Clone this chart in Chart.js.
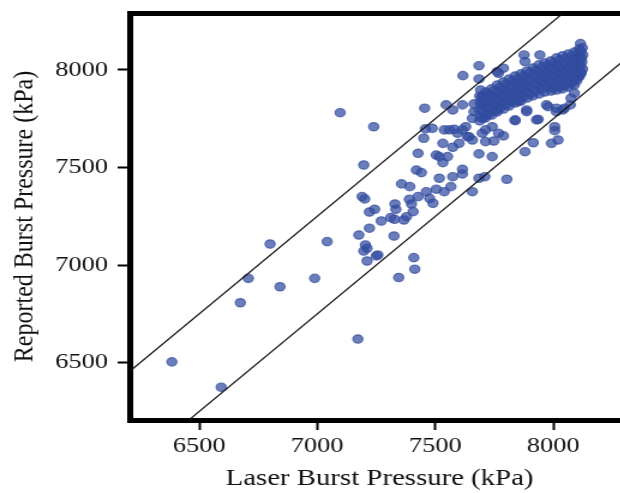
<!DOCTYPE html>
<html>
<head>
<meta charset="utf-8">
<script src="https://cdn.jsdelivr.net/npm/chart.js@4"></script>
<style>
  html, body { margin: 0; padding: 0; background: #fff; overflow: hidden; }
  #frame { width: 620px; height: 493px; overflow: hidden; position: relative; }
  /* the source figure is stretched horizontally, so the whole canvas is too */
  #stretch { transform: scaleX(1.2); transform-origin: 0 0; width: 530px; height: 493px; }
</style>
</head>
<body>
<div id="frame"><div id="stretch"><canvas id="burstChart" width="530" height="493"></canvas></div></div>
<script>
const laserPressure = [
  // scattered points, low end
  6384,6593,6674,6708,6800,6842,6989,7042,7097,7172,
  7239,7197,7190,7201,7221,7243,7221,7176,7204,7197,
  7211,7211,7250,7257,7271,7311,7327,7329,7333,7357,
  7392,7325,7345,7390,7399,7378,7367,7406,7409,7413,
  // middle band
  7420,7441,7427,7462,7476,7490,7504,7538,7566,7517,
  7574,7615,7615,7657,7685,7710,7803,7504,7517,7532,
  7552,7427,7458,7487,7451,7455,7546,7574,7615,7657,
  7664,7664,7617,7685,7685,7538,7559,7580,7594,7532,
  7574,7601,7615,7629,7643,7685,7741,7713,7748,7789,
  7657,7699,7713,7741,7768,7636,7880,7915,7992,8020,
  8006,7936,7838,7887,7978,8013,8047,8072,8110,7876,
  7943,7789,7768,7713,7727,7699,
  // edge of the dense cloud
  7762,7880,8117,8089,8075,7971,8013,8040,
  7887,7929,7838,7762,7699,7692,7810,7852,8006,8115,
  // dense cloud
  7688,7690,7686,7691,7688, 7713,7715,7711,7714,7712,
  7738,7736,7740,7737,7739, 7763,7765,7761,7764,7762,
  7788,7786,7790,7787,7789, 7813,7815,7811,7814,7812,
  7838,7836,7840,7837,7839, 7863,7865,7861,7864,7862,
  7888,7886,7890,7887,7889, 7914,7916,7912,7915,7913,
  7939,7937,7941,7938,7940, 7964,7966,7962,7965,7963,
  7989,7987,7991,7988,7990, 8014,8016,8012,8015,8013,8014,
  8039,8037,8041,8038,8040,8039, 8064,8066,8062,8065,8063,8064,
  8089,8087,8091,8088,8090,8089, 8110,8112,8108,8111,8109,
  8123,8125,8121,8124,
  7700,7702,7698,7701, 7725,7723,7727,7724,
  7750,7752,7748,7751, 7775,7773,7777,7774,
  7800,7802,7798,7801, 7825,7823,7827,7824,
  7850,7852,7848,7851, 7875,7873,7877,7874,
  7900,7902,7898,7901, 7926,7924,7928,7925,
  7951,7953,7949,7952, 7976,7974,7978,7975,
  8001,8003,7999,8002,8000, 8026,8024,8028,8025,8027,
  8051,8053,8049,8052,8050, 8076,8074,8078,8075,8077,
  8100,8102,8098,8101,8099, 8117,8119,8115,8118
];
const reportedPressure = [
  6504,6374,6807,6932,7108,6889,6932,7120,7781,6621,
  7709,7513,7351,7339,7272,7286,7189,7154,7103,7072,
  7086,7021,7047,7052,7226,7243,7235,7313,7286,7416,
  7402,7149,6936,7337,7313,7248,7231,7274,7038,6979,

  7487,7474,7351,7376,7342,7317,7389,7376,7402,7445,
  7453,7467,7491,7376,7445,7453,7440,7564,7556,7525,
  7556,7573,7698,7701,7650,7804,7821,7795,7821,7752,
  7786,7826,7971,8022,7954,7693,7693,7696,7676,7624,
  7604,7624,7693,7709,7658,7570,7556,7633,7636,7662,
  7641,7676,7693,7709,7676,7658,7581,7627,7624,7641,
  7689,7747,7740,7786,7812,7786,7804,7821,7966,8077,
  8077,8009,7983,7872,7846,7821,

  7991,8043,7983,7881,7855,7821,7804,7795,
  7795,7744,7744,7795,7863,7897,7846,7838,7709,8135,

  7866,7831,7795,7759,7739, 7887,7851,7815,7780,7754,
  7903,7867,7831,7795,7769, 7923,7887,7851,7815,7785,
  7938,7903,7867,7831,7800, 7954,7918,7882,7846,7815,
  7969,7933,7897,7862,7831, 7980,7944,7908,7872,7841,
  7995,7959,7923,7887,7856, 8010,7974,7938,7903,7867,
  8026,7990,7954,7918,7877, 8036,8000,7964,7928,7887,
  8046,8010,7974,7938,7892, 8062,8026,7990,7954,7918,7897,
  8072,8036,8000,7964,7928,7903, 8082,8046,8010,7974,7938,7913,
  8092,8056,8020,7985,7949,7923, 8108,8072,8036,8000,7969,
  8113,8077,8041,8005,
  7858,7822,7786,7752, 7877,7841,7805,7770,
  7895,7859,7823,7790, 7912,7876,7840,7806,
  7928,7892,7856,7822, 7943,7907,7871,7838,
  7956,7920,7884,7850, 7969,7933,7897,7862,
  7984,7948,7912,7876, 7999,7963,7927,7890,
  8012,7976,7940,7904, 8023,7987,7951,7912,
  8036,8000,7964,7928,7905, 8049,8013,7977,7941,7912,
  8059,8023,7987,7951,7920, 8069,8033,7997,7961,7930,
  8082,8046,8010,7974,7944, 8095,8059,8023,7987
];

// +/- 250 kPa guide lines
const guideX = [6000, 8600];
const upperGuideY = [6250, 8850];
const lowerGuideY = [5750, 8350];

const tickValues = [6500, 7000, 7500, 8000];

const xRange = { min: 6205, max: 8323 };
const yRange = { min: 6206, max: 8292 };

const pointColor = 'rgba(50, 76, 160, 0.72)';
const serif = "'Liberation Serif', 'Times New Roman', Times, serif";
const tickFont = { family: serif, size: 22 };
const titleFont = { family: serif, size: 24 };

const scatterPoints = laserPressure.map((x, i) => ({ x: x, y: reportedPressure[i] }));
const upperLine = guideX.map((x, i) => ({ x: x, y: upperGuideY[i] }));
const lowerLine = guideX.map((x, i) => ({ x: x, y: lowerGuideY[i] }));

function useTickValues(scale) {
  scale.ticks = tickValues.map(v => ({ value: v }));
}

const ctx = document.getElementById('burstChart').getContext('2d');
new Chart(ctx, {
  type: 'scatter',
  data: {
    datasets: [
      {
        label: 'Burst pressure',
        data: scatterPoints,
        backgroundColor: pointColor,
        borderColor: pointColor,
        borderWidth: 1.2,
        pointRadius: 4.2,
        order: 1
      },
      {
        label: 'Upper limit',
        data: upperLine,
        showLine: true,
        borderColor: '#111',
        borderWidth: 1.2,
        pointRadius: 0,
        order: 0
      },
      {
        label: 'Lower limit',
        data: lowerLine,
        showLine: true,
        borderColor: '#111',
        borderWidth: 1.2,
        pointRadius: 0,
        order: 0
      }
    ]
  },
  options: {
    responsive: false,
    animation: false,
    layout: { padding: { top: 13, left: 0, right: 0, bottom: 0 } },
    plugins: {
      legend: { display: false },
      tooltip: { enabled: false }
    },
    scales: {
      x: {
        type: 'linear',
        position: 'bottom',
        min: xRange.min,
        max: xRange.max,
        afterBuildTicks: useTickValues,
        afterFit: s => { s.height = 73; s.paddingLeft = 0; s.paddingRight = 0; },
        border: { display: true, color: '#000', width: 5 },
        grid: { drawOnChartArea: false, drawTicks: true, tickLength: 10, tickWidth: 2, tickColor: '#000' },
        ticks: { font: tickFont, color: '#111', padding: 3, maxRotation: 0, callback: v => String(v) },
        title: { display: true, text: 'Laser Burst Pressure (kPa)', font: titleFont, color: '#111', padding: { top: 0, bottom: 0 } }
      },
      x2: {
        type: 'linear',
        position: 'top',
        min: xRange.min,
        max: xRange.max,
        afterFit: s => { s.height = 0; s.paddingLeft = 0; s.paddingRight = 0; },
        border: { display: true, color: '#000', width: 5 },
        grid: { drawOnChartArea: false, drawTicks: false },
        ticks: { display: false }
      },
      y: {
        type: 'linear',
        position: 'left',
        min: yRange.min,
        max: yRange.max,
        afterBuildTicks: useTickValues,
        afterFit: s => { s.width = 108; s.paddingTop = 0; s.paddingBottom = 0; },
        border: { display: true, color: '#000', width: 5 },
        grid: { drawOnChartArea: false, drawTicks: true, tickLength: 10, tickWidth: 2, tickColor: '#000' },
        ticks: { font: tickFont, color: '#111', padding: 8, callback: v => String(v) },
        title: { display: true, text: 'Reported Burst Pressure (kPa)', font: titleFont, color: '#111', padding: { top: 6, bottom: 0 } }
      }
    }
  }
});
</script>
</body>
</html>
